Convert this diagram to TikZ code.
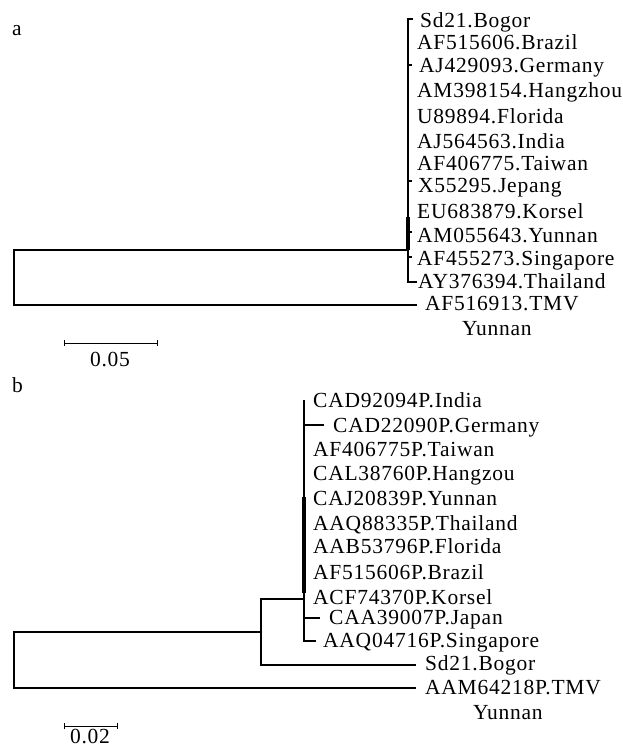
\documentclass[tikz,border=0pt]{standalone}
\usepackage{fontspec}
\setmainfont[LetterSpace=3.5]{Liberation Serif}
\begin{document}
\begin{tikzpicture}[x=1pt,y=-1pt,
  br/.style={line width=1.2pt, line cap=rect},
  leaf/.style={anchor=base west, inner sep=0pt, font=\fontsize{21.5}{24}\selectfont},
  lab/.style={anchor=base, inner sep=0pt, font=\fontsize{21.5}{24}\selectfont}]
\useasboundingbox (0,0) rectangle (623,747);
% ---------------- panel a ----------------
\node[leaf] (pa) at (12,35) {a};
\node[leaf] (a1) at (420,27) {Sd21.Bogor};
\node[leaf] (a2) at (417,49) {AF515606.Brazil};
\node[leaf] (a3) at (419,72) {AJ429093.Germany};
\node[leaf] (a4) at (417,97) {AM398154.Hangzhou};
\node[leaf] (a5) at (417,123) {U89894.Florida};
\node[leaf] (a6) at (417,148) {AJ564563.India};
\node[leaf] (a7) at (417,170) {AF406775.Taiwan};
\node[leaf] (a8) at (418,192) {X55295.Jepang};
\node[leaf] (a9) at (417,218) {EU683879.Korsel};
\node[leaf] (a10) at (417,242) {AM055643.Yunnan};
\node[leaf] (a11) at (417,265) {AF455273.Singapore};
\node[leaf] (a12) at (418,288) {AY376394.Thailand};
\node[leaf] (a13) at (425,310) {AF516913.TMV};
\node[leaf] (a14) at (462,335) {Yunnan};
\coordinate (aTop) at (408,19);
\coordinate (aBot) at (408,282);
\coordinate (aJoin) at (408,250);
\coordinate (aR1) at (14,250);
\coordinate (aR2) at (14,305);
\coordinate (aTMV) at (416,305);
\coordinate (aThai) at (416,282);
\draw[br] (aTop) -- (aBot) -- (aThai);
\draw[br] (aTop) -- ++(4,0);
\draw[br] (408,65) -- ++(3,0);
\draw[br] (408,181) -- ++(3,0);
\draw[br] (408,232) -- ++(3,0);
\draw[br] (408,257) -- ++(3,0);
\draw[line width=2.2pt] (408,113) -- (408,217);
\draw[line width=3.4pt] (408,217) -- (aJoin);
\draw[br] (aJoin) -- (aR1) -- (aR2) -- (aTMV);
% scale a
\coordinate (sa1) at (64,343);
\coordinate (sa2) at (157,343);
\draw[line width=1pt] (sa1) -- (sa2);
\draw[line width=1pt] (64,340) -- (64,346);
\draw[line width=1pt] (157,340) -- (157,346);
\node[lab] (sal) at (110,366) {0.05};
% ---------------- panel b ----------------
\node[leaf] (pb) at (12,392) {b};
\node[leaf] (b1) at (313,407) {CAD92094P.India};
\node[leaf] (b2) at (333,432) {CAD22090P.Germany};
\node[leaf] (b3) at (313,456) {AF406775P.Taiwan};
\node[leaf] (b4) at (313,480) {CAL38760P.Hangzou};
\node[leaf] (b5) at (313,505) {CAJ20839P.Yunnan};
\node[leaf] (b6) at (313,530) {AAQ88335P.Thailand};
\node[leaf] (b7) at (313,553) {AAB53796P.Florida};
\node[leaf] (b8) at (313,579) {AF515606P.Brazil};
\node[leaf] (b9) at (313,604) {ACF74370P.Korsel};
\node[leaf] (b10) at (329,624) {CAA39007P.Japan};
\node[leaf] (b11) at (323,647) {AAQ04716P.Singapore};
\node[leaf] (b12) at (425,670) {Sd21.Bogor};
\node[leaf] (b13) at (425,694) {AAM64218P.TMV};
\node[leaf] (b14) at (473,719) {Yunnan};
\coordinate (bTop) at (304,401);
\coordinate (bBot) at (304,641);
\coordinate (bSing) at (315,641);
\coordinate (bJap0) at (304,618);
\coordinate (bJap) at (319,618);
\coordinate (bGer0) at (304,425);
\coordinate (bGer) at (323,425);
\coordinate (bJoin) at (304,599);
\coordinate (bN) at (261,599);
\coordinate (bN2) at (261,632);
\coordinate (bNb) at (261,665);
\coordinate (bBog) at (415,665);
\coordinate (bR1) at (14,632);
\coordinate (bR2) at (14,688);
\coordinate (bTMV) at (415,688);
\draw[br] (bTop) -- (bBot) -- (bSing);
\draw[br] (bJap0) -- (bJap);
\draw[br] (bGer0) -- (bGer);
\draw[line width=4pt] (304,497) -- (304,593);
\draw[line width=2.5pt] (304,593) -- (bJap0);
\draw[br] (bJoin) -- (bN) -- (bNb) -- (bBog);
\draw[br] (bN2) -- (bR1) -- (bR2) -- (bTMV);
% scale b
\coordinate (sb1) at (64,726);
\coordinate (sb2) at (117,726);
\draw[line width=1pt] (sb1) -- (sb2);
\draw[line width=1pt] (64,723) -- (64,729);
\draw[line width=1pt] (117,723) -- (117,729);
\node[lab] (sbl) at (90,743) {0.02};
\end{tikzpicture}
\end{document}
